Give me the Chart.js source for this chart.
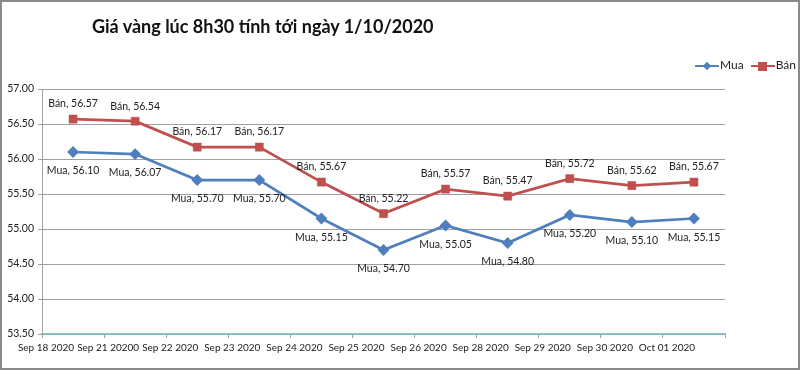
<!DOCTYPE html>
<html>
<head>
<meta charset="utf-8">
<script src="https://cdn.jsdelivr.net/npm/chart.js@4"></script>
<style>
  body { margin: 0; background: #fff; }
  #wrap { position: relative; width: 800px; height: 370px; font-family: Lato, "Open Sans", sans-serif; }
  #frame { position: absolute; left: 0; top: 0; width: 800px; height: 370px; box-sizing: border-box; border: 2px solid #8a8a8a; pointer-events: none; }
  #title { position: absolute; left: 92px; top: 15px; font-size: 18px; font-weight: bold; color: #111; white-space: nowrap; }
  #legend { position: absolute; left: 695px; top: 57px; font-size: 12px; color: #222; white-space: nowrap; }
  .item { display: inline-block; margin-right: 7px; }
  .icon { display: inline-block; position: relative; width: 24px; height: 12px; vertical-align: middle; margin-right: 1px; }
  .icon .ln { position: absolute; left: 0; top: 5px; width: 24px; height: 2.5px; }
  .icon .mk { position: absolute; }
</style>
</head>
<body>
<div id="wrap">
  <canvas id="chart" width="800" height="370"></canvas>
  <div id="title">Giá vàng lúc 8h30 tính tới ngày 1/10/2020</div>
  <div id="legend"></div>
  <div id="frame"></div>
</div>
<script>
const dates = ['Sep 18 2020', 'Sep 21 20200', 'Sep 22 2020', 'Sep 23 2020', 'Sep 24 2020', 'Sep 25 2020',
               'Sep 26 2020', 'Sep 28 2020', 'Sep 29 2020', 'Sep 30 2020', 'Oct 01 2020'];
const muaPrices = [56.10, 56.07, 55.70, 55.70, 55.15, 54.70, 55.05, 54.80, 55.20, 55.10, 55.15];
const banPrices = [56.57, 56.54, 56.17, 56.17, 55.67, 55.22, 55.57, 55.47, 55.72, 55.62, 55.67];

const blue = '#4f7fbc';
const red = '#c0504d';

// draws "Bán, 56.57" style labels next to each point
const pointLabels = {
    id: 'pointLabels',
    afterDatasetsDraw(chart) {
        const ctx = chart.ctx;
        ctx.save();
        ctx.font = '10.5px Lato, "Open Sans", sans-serif';
        ctx.fillStyle = '#222';
        ctx.textAlign = 'center';
        ctx.textBaseline = 'middle';
        chart.data.datasets.forEach((ds, i) => {
            const meta = chart.getDatasetMeta(i);
            const dy = ds.label === 'Bán' ? -15 : 19;
            meta.data.forEach((pt, j) => {
                ctx.fillText(ds.label + ', ' + ds.data[j].toFixed(2), pt.x, pt.y + dy);
            });
        });
        ctx.restore();
    }
};

const ctx = document.getElementById('chart').getContext('2d');
const chart = new Chart(ctx, {
    type: 'line',
    data: {
        labels: dates,
        datasets: [{
            label: 'Mua',
            data: muaPrices,
            borderColor: blue,
            backgroundColor: blue,
            borderWidth: 2.75,
            pointStyle: 'rectRot',
            pointRadius: 4,
            tension: 0,
            fill: false
        }, {
            label: 'Bán',
            data: banPrices,
            borderColor: red,
            backgroundColor: red,
            borderWidth: 2.75,
            pointStyle: 'rect',
            pointRadius: 5.7,
            pointBorderWidth: 0.5,
            tension: 0,
            fill: false
        }]
    },
    options: {
        responsive: false,
        animation: false,
        layout: { padding: { top: 89, right: 75, left: 0, bottom: 0 } },
        plugins: {
            legend: { display: false },
            tooltip: { enabled: false }
        },
        scales: {
            x: {
                offset: true,
                afterFit: s => { s.height = 36; },
                grid: { drawOnChartArea: false, offset: true, tickLength: 4, color: '#a0a0a0' },
                border: { color: '#7cc7cf', width: 1.5 },
                ticks: {
                    autoSkip: false,
                    maxRotation: 0,
                    labelOffset: -27,
                    padding: 4,
                    color: '#222',
                    font: { family: 'Lato, "Open Sans", sans-serif', size: 10 }
                }
            },
            y: {
                min: 53.5,
                max: 57,
                afterFit: s => { s.width = 42; },
                grid: { color: '#a0a0a0', tickLength: 4 },
                border: { color: '#a0a0a0' },
                ticks: {
                    stepSize: 0.5,
                    padding: 4,
                    color: '#222',
                    font: { family: 'Lato, "Open Sans", sans-serif', size: 10.5 },
                    callback: v => Number(v).toFixed(2)
                }
            }
        }
    },
    plugins: [pointLabels]
});

// legend built from the dataset styles
const legend = document.getElementById('legend');
chart.data.datasets.forEach(ds => {
    const item = document.createElement('span');
    item.className = 'item';
    const icon = document.createElement('span');
    icon.className = 'icon';
    const ln = document.createElement('span');
    ln.className = 'ln';
    ln.style.background = ds.borderColor;
    const mk = document.createElement('span');
    mk.className = 'mk';
    mk.style.background = ds.borderColor;
    if (ds.pointStyle === 'rectRot') {
        mk.style.cssText += 'left:9px;top:3px;width:6px;height:6px;transform:rotate(45deg);';
    } else {
        mk.style.cssText += 'left:7px;top:2px;width:9px;height:9px;';
    }
    icon.appendChild(ln);
    icon.appendChild(mk);
    item.appendChild(icon);
    item.appendChild(document.createTextNode(ds.label));
    legend.appendChild(item);
});
</script>
</body>
</html>
